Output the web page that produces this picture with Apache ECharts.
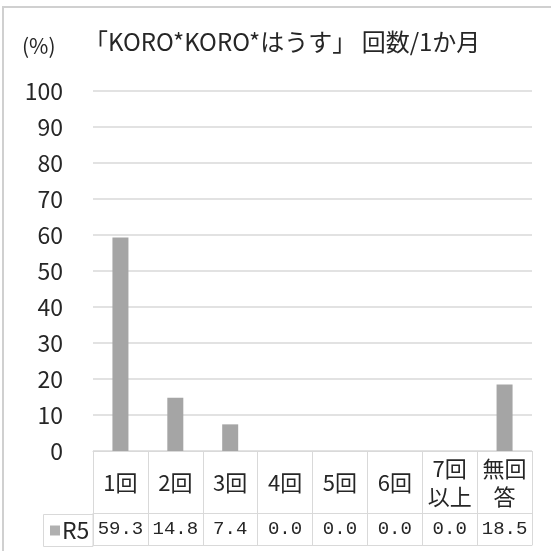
<!DOCTYPE html>
<html>
<head>
<meta charset="utf-8">
<script src="https://cdn.jsdelivr.net/npm/echarts@6/dist/echarts.min.js"></script>
<style>html,body{margin:0;padding:0;background:#fff;}#c{width:551px;height:551px;}</style>
</head>
<body>
<div id="c"></div>
<script>
const titleText = '「KORO*KORO*はうす」 回数/1か月';
const unitText = '(%)';
const seriesName = 'R5';
const categories = ['1回', '2回', '3回', '4回', '5回', '6回', '7回\n以上', '無回\n答'];
const r5Values = [59.3, 14.8, 7.4, 0.0, 0.0, 0.0, 0.0, 18.5];
const yMin = 0, yMax = 100, yStep = 10;

const CJK = "'Noto Sans CJK JP', sans-serif";
const NARROW = "'Liberation Sans Narrow', 'Noto Sans CJK JP', sans-serif";
const MONO = "'Liberation Mono', 'DejaVu Sans Mono', monospace";
const TXT = '#262626';
const LINE = '#d9d9d9';

const chart = echarts.init(document.getElementById('c'), null, {renderer: 'canvas'});
chart.setOption({
  animation: false,
  backgroundColor: '#ffffff',
  title: [
    {text: titleText, left: 84, top: 30, padding: 0,
     textStyle: {fontFamily: CJK, fontSize: 24, fontWeight: 'normal', color: TXT}},
    {text: unitText, left: 22, top: 36, padding: 0,
     textStyle: {fontFamily: NARROW, fontSize: 21, fontWeight: 'normal', color: TXT}}
  ],
  legend: {
    data: [seriesName], left: 50, top: 519, padding: 0,
    icon: 'rect', itemWidth: 10, itemHeight: 10, itemGap: 4,
    itemStyle: {color: '#b0b0b0'},
    textStyle: {fontFamily: NARROW, fontSize: 23, color: TXT, lineHeight: 22, padding: [0,0,0,-3]}
  },
  grid: {left: 93, right: 19, top: 91, bottom: 100, containLabel: false},
  xAxis: [
    {
      type: 'category', data: categories, position: 'bottom', offset: 0,
      axisLine: {show: true, lineStyle: {color: LINE, width: 1}},
      axisTick: {show: true, interval: 0, length: 62, lineStyle: {color: LINE}},
      axisLabel: {interval: 0, margin: 32, verticalAlign: 'middle', fontFamily: CJK,
                  fontSize: 22, lineHeight: 28, color: TXT}
    },
    {
      type: 'category', data: r5Values.map(v => v.toFixed(1)), position: 'bottom', offset: 62,
      axisLine: {show: true, lineStyle: {color: LINE, width: 1}},
      axisTick: {show: true, interval: 0, length: 32, lineStyle: {color: LINE}},
      axisLabel: {interval: 0, margin: 16, verticalAlign: 'middle', fontFamily: MONO,
                  fontSize: 19, color: TXT}
    },
    {
      type: 'category', data: categories, position: 'bottom', offset: 94,
      axisLine: {show: true, lineStyle: {color: LINE, width: 1}},
      axisTick: {show: false}, axisLabel: {show: false}
    }
  ],
  yAxis: {
    type: 'value', min: yMin, max: yMax, interval: yStep,
    axisLine: {show: false}, axisTick: {show: false},
    splitLine: {show: true, lineStyle: {color: LINE, width: 1.5}},
    axisLabel: {margin: 30, fontFamily: NARROW, fontSize: 23, color: TXT}
  },
  series: [{
    name: seriesName, type: 'bar', data: r5Values, xAxisIndex: 0,
    barWidth: 16, itemStyle: {color: '#a5a5a5'}
  }],
  graphic: [
    {type: 'rect', silent: true, shape: {x: 3, y: 7, width: 620, height: 620},
     style: {fill: 'none', stroke: '#d0d0d0', lineWidth: 2}},
    {type: 'rect', silent: true, shape: {x: 43.5, y: 514.5, width: 49.5, height: 32},
     style: {fill: 'none', stroke: LINE, lineWidth: 1}}
  ]
});
</script>
</body>
</html>
